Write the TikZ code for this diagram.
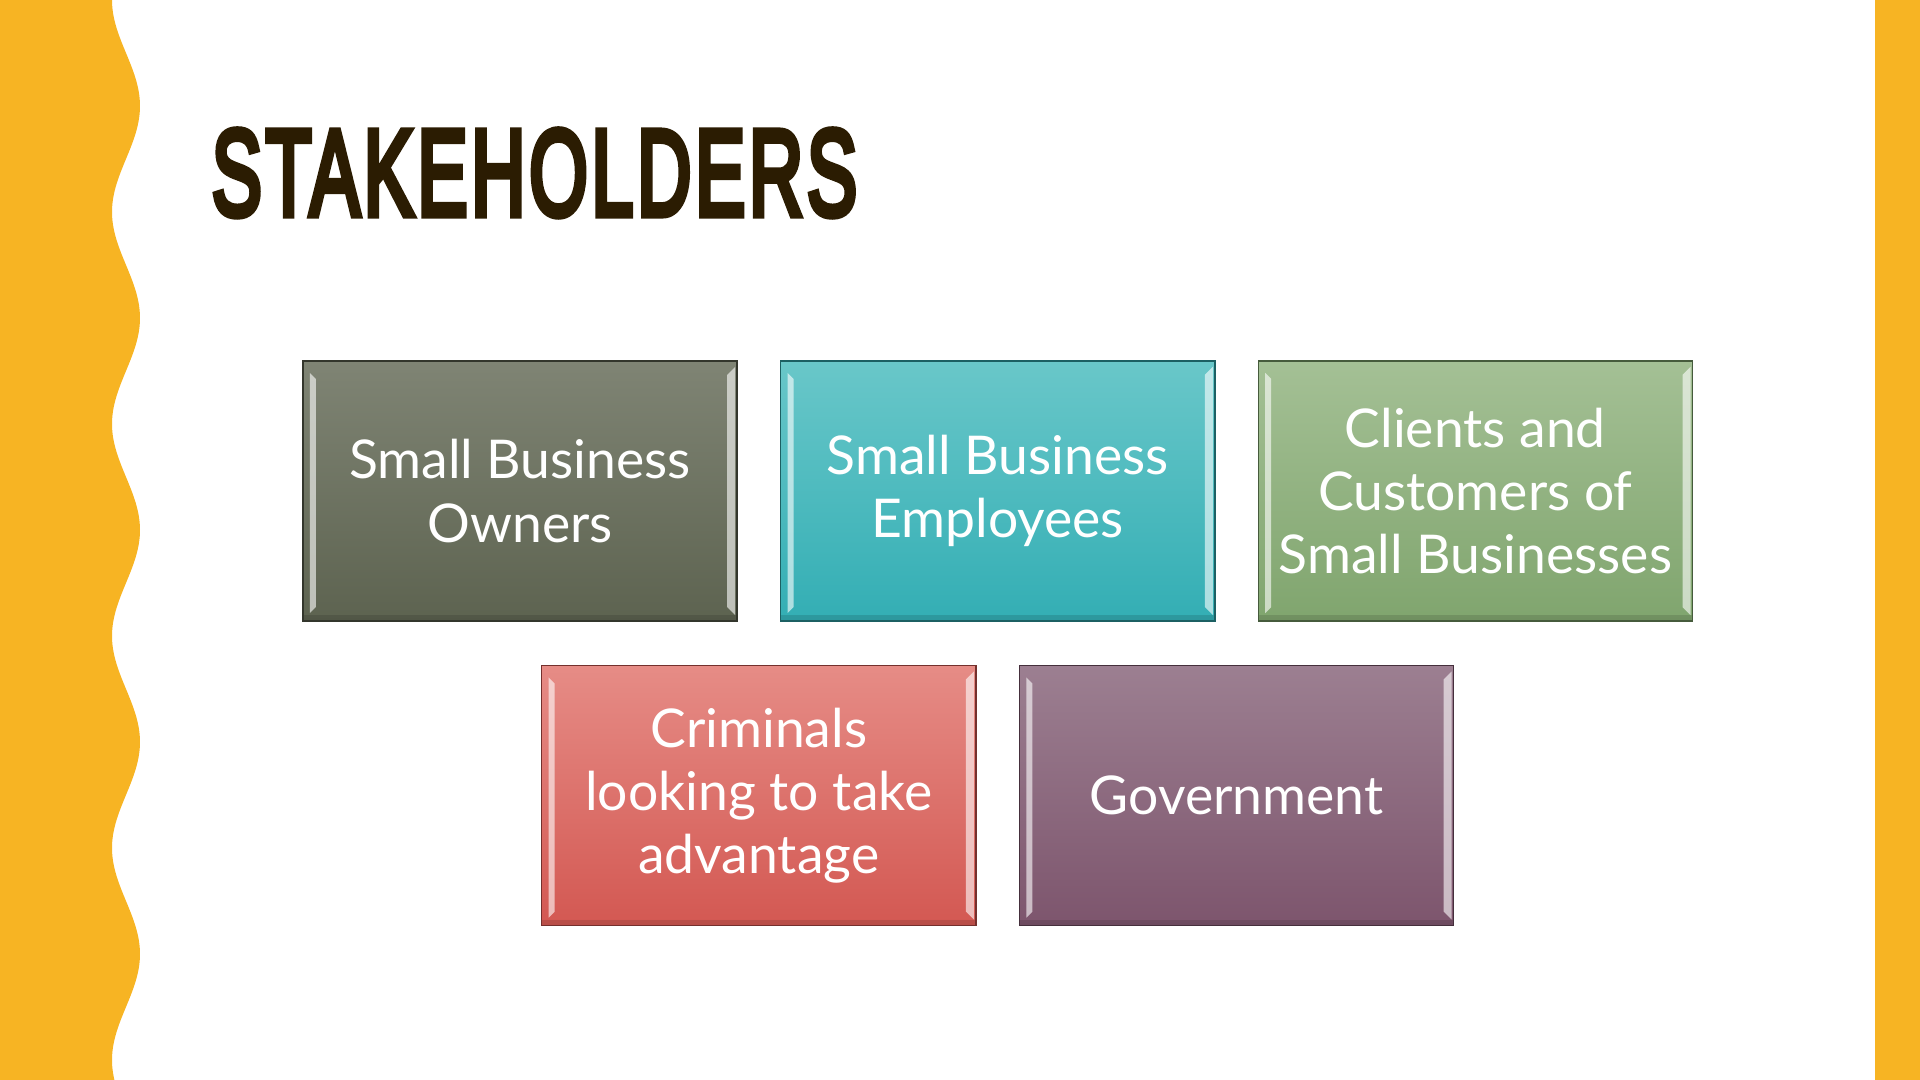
\documentclass[tikz,border=0pt]{standalone}
\usepackage{fontspec}
\usepackage{graphicx}
\usetikzlibrary{positioning, calc}
\newfontfamily\boxfont{Lato}
\newfontfamily\titlefont[FakeBold=6, LetterSpace=5]{Liberation Sans}

\definecolor{bandyellow}{HTML}{F7B423}
\definecolor{titlebrown}{HTML}{2B1C02}
\definecolor{ownerstop}{HTML}{7F8474}
\definecolor{ownersbot}{HTML}{5D6350}
\definecolor{stafftop}{HTML}{69C7C9}
\definecolor{staffbot}{HTML}{33AEB4}
\definecolor{clientstop}{HTML}{A4C095}
\definecolor{clientsbot}{HTML}{80A56E}
\definecolor{crookstop}{HTML}{E68C86}
\definecolor{crooksbot}{HTML}{D35852}
\definecolor{govttop}{HTML}{9C7F91}
\definecolor{govtbot}{HTML}{7D556D}

\begin{document}
\begin{tikzpicture}[
    x=0.01cm, y=0.01cm,
    node distance=0.43cm and 0.42cm,
    stakebox/.style={rectangle, top color=#1top, bottom color=#1bot, draw=#1bot!55!black, line width=0.4pt,
        minimum width=4.34cm, minimum height=2.6cm, inner sep=0pt, align=center, text=white,
        font=\boxfont\fontsize{15.2}{18}\selectfont,
        path picture={
            % bevel highlights
            \fill[white, opacity=0.6] ($(path picture bounding box.north west)+(7,-12)$) -- ++(6,-6) -- ($(path picture bounding box.south west)+(13,14)$) -- ++(-6,-6) -- cycle;
            \fill[white, opacity=0.6] ($(path picture bounding box.north east)+(-10,-14)$) -- ++(8,8) -- ($(path picture bounding box.south east)+(-2,6)$) -- ++(-8,8) -- cycle;
            \fill[black, opacity=0.12] (path picture bounding box.south west) rectangle ($(path picture bounding box.south east)+(0,6)$);
        }},
]
    \useasboundingbox (0,0) rectangle (1920,1080);

    % wavy band on the left, plain band on the right
    \fill[bandyellow] (0,0) -- plot[variable=\t, domain=0:1080, samples=160, smooth] ({126-14*cos((1080-\t)*1.69811)}, \t) -- (0,1080) -- cycle;
    \fill[bandyellow] (1875,0) rectangle (1920,1080);

    % Title
    \node[text=titlebrown, inner sep=0pt] (title) at (534.5,907) {\resizebox{6.45cm}{0.85cm}{\titlefont STAKEHOLDERS}};

    % Top row
    \node[stakebox=owners] (owners) at (520,589) {Small Business\\Owners};
    \node[stakebox=staff, right=of owners] (staff) {Small Business\\Employees};
    \node[stakebox=clients, right=of staff] (clients) {Clients and\\Customers of\\Small Businesses};

    % Bottom row
    \coordinate (mid) at ($(owners.south)!0.5!(staff.south)$);
    \node[stakebox=crooks, below=of mid] (crooks) {Criminals\\looking to take\\advantage};
    \node[stakebox=govt, right=of crooks] (govt) {Government};

\end{tikzpicture}
\end{document}
